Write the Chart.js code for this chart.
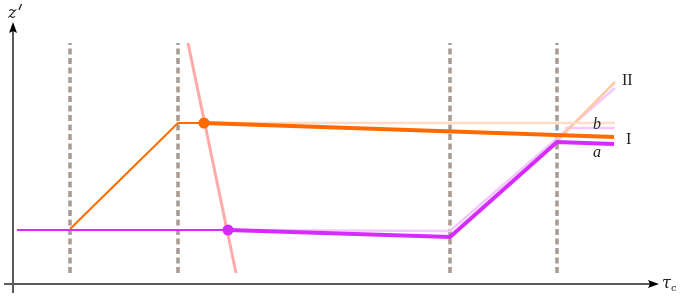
<!DOCTYPE html>
<html>
<head>
<meta charset="utf-8">
<script src="https://cdn.jsdelivr.net/npm/chart.js@4/dist/chart.umd.min.js"></script>
<style>
    html, body { margin: 0; padding: 0; background: #fff; }
    #wrap { width: 681px; height: 298px; }
</style>
</head>
<body>
<div id="wrap"><canvas id="chart"></canvas></div>
<script>
// ------------------------------------------------------------
// τc – z' 図（読み取った値）
// ------------------------------------------------------------

// 破線の位置（τc）と上下端（z'）
const dashX = [70, 178, 450, 557];
const dashZ = [25, 255];

// 急な直線（ピンク）
const steepLine = [{ x: 188, y: 255 }, { x: 236, y: 25 }];

// オレンジ系
const orangeRise = [{ x: 70, y: 69 }, { x: 178, y: 175 }, { x: 204, y: 175 }];
const orangeMain = [{ x: 204, y: 175 }, { x: 614, y: 161 }];
const orangeFlatLight = [{ x: 204, y: 175 }, { x: 615, y: 175 }];
const orangeDiagLight = [{ x: 557, y: 157 }, { x: 615, y: 216 }];
const orangeDot = [{ x: 204, y: 175 }];

// 紫系
const purpleFlat = [{ x: 17, y: 68 }, { x: 228, y: 68 }];
const purpleMain = [{ x: 228, y: 68 }, { x: 450, y: 61 }, { x: 557, y: 156 }, { x: 614, y: 154 }];
const purpleLight = [{ x: 228, y: 68 }, { x: 450, y: 67 }, { x: 615, y: 210 }];
const purpleFlatLight = [{ x: 565, y: 170 }, { x: 615, y: 170 }];
const purpleDot = [{ x: 228, y: 68 }];

// ラベル
const curveLabels = [
    { text: 'II', x: 622, y: 217, italic: false },
    { text: 'b', x: 593, y: 173, italic: true },
    { text: 'I', x: 626, y: 158, italic: false },
    { text: 'a', x: 593, y: 145, italic: true },
];

const ORANGE = '#ff6a00';
const PURPLE = '#d62bff';

const line = (data, color, width, order, extra = {}) => ({
    data,
    borderColor: color,
    backgroundColor: color,
    borderWidth: width,
    pointRadius: 0,
    tension: 0,
    fill: false,
    order,
    ...extra,
});

const datasets = [
    ...dashX.map(x => line([{ x, y: dashZ[0] }, { x, y: dashZ[1] }], '#a99b91', 3.5, 20, { borderDash: [6, 3.5] })),
    line(orangeFlatLight, '#ffdcc6', 2.5, 15),
    line(orangeDiagLight, '#ffc9a6', 2.5, 15),
    line(purpleLight, '#f3c8ff', 2.5, 15),
    line(purpleFlatLight, '#f3c8ff', 2.5, 15),
    line(steepLine, '#ffa9a9', 3, 12),
    line(orangeRise, ORANGE, 2, 8),
    line(orangeMain, ORANGE, 4, 8),
    line(purpleFlat, PURPLE, 2, 8),
    line(purpleMain, PURPLE, 4, 8),
    line(orangeDot, ORANGE, 0, 1, { pointRadius: 5.5, showLine: false }),
    line(purpleDot, PURPLE, 0, 1, { pointRadius: 5.5, showLine: false }),
];

// 矢印付きの軸とラベル
const axesPlugin = {
    id: 'axes',
    afterDatasetsDraw(chart) {
        const { ctx } = chart;
        ctx.save();
        ctx.strokeStyle = '#5a5a5a';
        ctx.fillStyle = '#000';
        ctx.lineWidth = 2;
        // y axis
        ctx.beginPath();
        ctx.moveTo(13, 293);
        ctx.lineTo(13, 30);
        ctx.stroke();
        ctx.beginPath();
        ctx.moveTo(13, 22);
        ctx.lineTo(9, 33);
        ctx.lineTo(13, 31);
        ctx.lineTo(17, 33);
        ctx.closePath();
        ctx.fill();
        // x axis
        ctx.beginPath();
        ctx.moveTo(4, 284);
        ctx.lineTo(650, 284);
        ctx.stroke();
        ctx.beginPath();
        ctx.moveTo(659, 284);
        ctx.lineTo(648, 280);
        ctx.lineTo(650, 284);
        ctx.lineTo(648, 288);
        ctx.closePath();
        ctx.fill();

        // axis titles
        ctx.fillStyle = '#222';
        ctx.textBaseline = 'middle';
        ctx.textAlign = 'left';
        ctx.font = 'italic 16px "DejaVu Serif", serif';
        ctx.fillText('z', 8, 14);
        // prime
        ctx.lineWidth = 1.3;
        ctx.strokeStyle = '#222';
        ctx.beginPath();
        ctx.moveTo(21.5, 4);
        ctx.lineTo(19, 10);
        ctx.stroke();
        ctx.font = 'italic 16px "DejaVu Serif", serif';
        ctx.fillText('τ', 662, 284);
        ctx.font = '10px "DejaVu Serif", serif';
        ctx.fillText('c', 671, 288);

        // curve labels
        const xs = chart.scales.x, ys = chart.scales.y;
        curveLabels.forEach(l => {
            ctx.font = (l.italic ? 'italic ' : '') + '16px "Liberation Serif", "DejaVu Serif", serif';
            ctx.fillText(l.text, xs.getPixelForValue(l.x), ys.getPixelForValue(l.y));
        });
        ctx.restore();
    },
};

new Chart(document.getElementById('chart'), {
    type: 'line',
    data: { datasets },
    options: {
        responsive: true,
        maintainAspectRatio: false,
        animation: false,
        layout: { padding: 0, autoPadding: false },
        plugins: { legend: { display: false }, tooltip: { enabled: false } },
        scales: {
            x: { type: 'linear', min: 0, max: 681, display: false },
            y: { type: 'linear', min: 0, max: 298, display: false },
        },
    },
    plugins: [axesPlugin],
});
</script>
</body>
</html>
